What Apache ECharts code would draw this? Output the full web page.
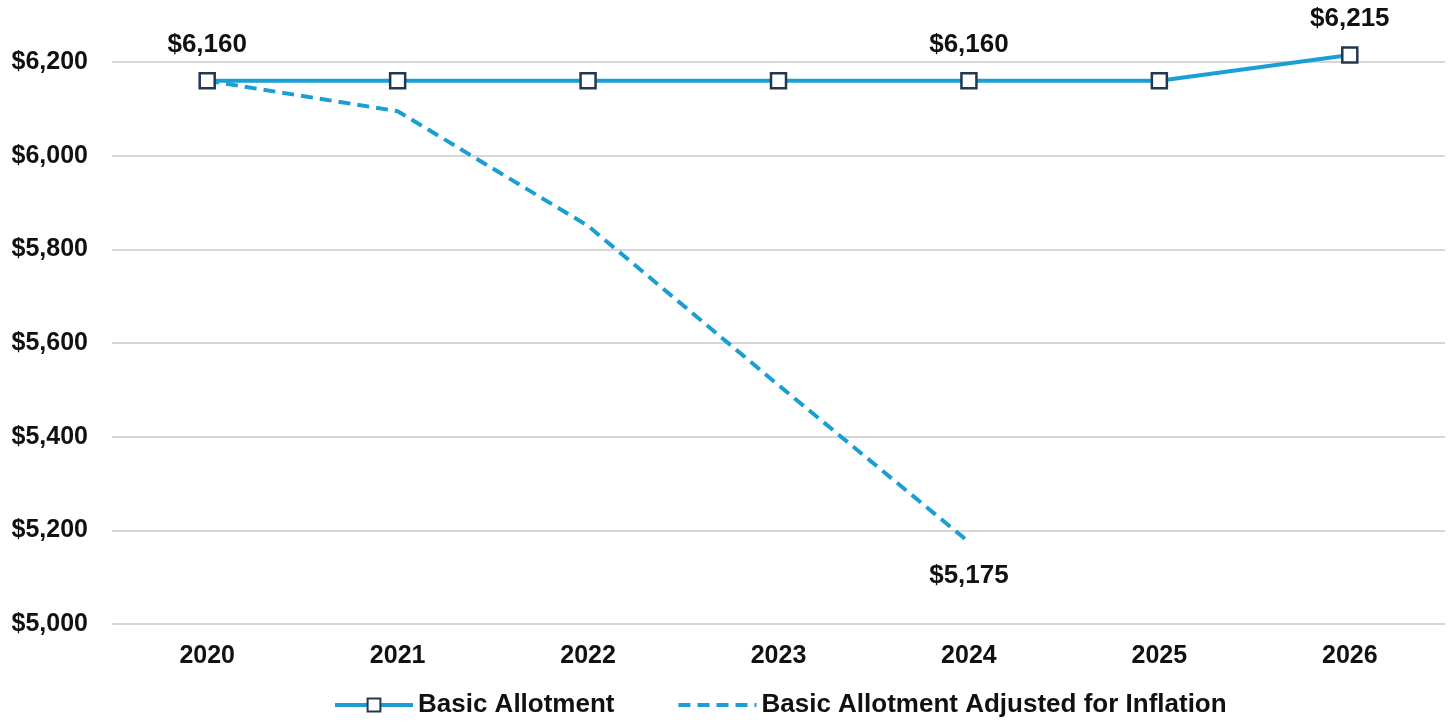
<!DOCTYPE html>
<html>
<head>
<meta charset="utf-8">
<script src="https://cdn.jsdelivr.net/npm/echarts@6/dist/echarts.min.js"></script>
<style>
  html, body { margin: 0; padding: 0; background: #fff; }
  #chart { width: 1449px; height: 723px; }
</style>
</head>
<body>
<div id="chart"></div>
<script>
const years = ["2020", "2021", "2022", "2023", "2024", "2025", "2026"];
const basic = [6160, 6160, 6160, 6160, 6160, 6160, 6215];
const adjusted = [6160, 6095, 5850, 5510, 5175, null, null];
// which points get a value label
const basicLabelled = [0, 4, 6];
const adjustedLabelled = [4];

const blue = "#1a9fd5";
const font = "Liberation Sans, Arial, sans-serif";
const money = (v) => "$" + v.toLocaleString("en-US");

const labelStyle = {
  fontFamily: font,
  fontWeight: "bold",
  fontSize: 26,
  color: "#111",
};

const option = {
  backgroundColor: "#fff",
  animation: false,
  grid: { left: 112, right: 4, top: 62, bottom: 99 },
  legend: {
    bottom: 0,
    left: 328,
    itemWidth: 78,
    itemHeight: 16,
    itemGap: 62,
    lineStyle: { width: 4 },
    textStyle: { fontFamily: font, fontWeight: "bold", fontSize: 26, color: "#111" },
    data: ["Basic Allotment", "Basic Allotment Adjusted for Inflation"],
  },
  xAxis: {
    type: "category",
    data: years,
    axisLine: { show: false },
    axisTick: { show: false },
    axisLabel: { margin: 20, fontFamily: font, fontWeight: "bold", fontSize: 25, color: "#111" },
  },
  yAxis: {
    type: "value",
    min: 5000,
    max: 6200,
    interval: 200,
    axisLabel: {
      margin: 24,
      fontFamily: font,
      fontWeight: "bold",
      fontSize: 25,
      color: "#111",
      formatter: money,
    },
    splitLine: { lineStyle: { color: "#d6d6d6", width: 2 } },
  },
  series: [
    {
      name: "Basic Allotment Adjusted for Inflation",
      type: "line",
      clip: false,
      symbol: "circle",
      symbolSize: 1,
      lineStyle: { color: blue, width: 4, type: [12, 7] },
      itemStyle: { color: "rgba(0,0,0,0)" },
      data: adjusted.map((v, i) => ({
        value: v,
        label: Object.assign({
          show: adjustedLabelled.includes(i),
          position: "bottom",
          distance: 20,
          formatter: (p) => money(p.value),
        }, labelStyle),
      })),
    },
    {
      name: "Basic Allotment",
      type: "line",
      clip: false,
      symbol: "rect",
      symbolSize: 15,
      z: 3,
      lineStyle: { color: blue, width: 4 },
      itemStyle: { color: "#fff", borderColor: "#23384f", borderWidth: 2.5 },
      data: basic.map((v, i) => ({
        value: v,
        label: Object.assign({
          show: basicLabelled.includes(i),
          position: "top",
          distance: 14,
          formatter: (p) => money(p.value),
        }, labelStyle),
      })),
    },
  ],
};

const chart = echarts.init(document.getElementById("chart"));
chart.setOption(option);
</script>
</body>
</html>
